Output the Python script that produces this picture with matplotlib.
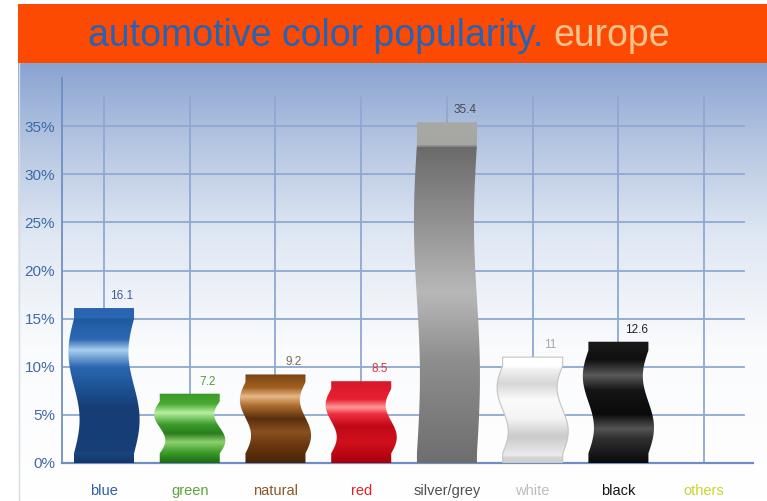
import numpy as np
import matplotlib
matplotlib.use("Agg")
import matplotlib.pyplot as plt
from matplotlib.patches import Polygon, Rectangle
from matplotlib.colors import LinearSegmentedColormap

# categories and their share (percent)
categories = ["blue", "green", "natural", "red", "silver/grey", "white", "black", "others"]
values = [16.1, 7.2, 9.2, 8.5, 35.4, 11.0, 12.6]
value_text = ["16.1", "7.2", "9.2", "8.5", "35.4", "11", "12.6"]
yticks = [0, 5, 10, 15, 20, 25, 30, 35]
ytick_labels = ["0%", "5%", "10%", "15%", "20%", "25%", "30%", "35%"]

label_colors = ["#2f5fa5", "#5aa53a", "#8a5626", "#e0202c", "#505050", "#bdbdbd", "#151515", "#c9d62a"]
value_colors = ["#3d5b8c", "#4d9f33", "#7a6858", "#e0303e", "#4a4a4a", "#a8a8a8", "#222222"]

# vertical colour stops (0 = bottom, 1 = top) for each ribbon bar
bar_stops = [
    [(0, "#143768"), (0.065, "#1a4680"), (0.075, "#173f78"), (0.35, "#163d74"), (0.5, "#1f5598"),
     (0.62, "#2a66b0"), (0.73, "#a8cff0"), (0.8, "#2e6ab4"), (0.93, "#1f5aa0"), (0.94, "#2b67b3"), (1, "#2a64b0")],
    [(0, "#1c6a14"), (0.15, "#3d9d2a"), (0.3, "#8fd070"), (0.42, "#2a7f1e"), (0.55, "#3a9a2a"),
     (0.72, "#b8f0a0"), (0.85, "#4aa832"), (1, "#3a9a28")],
    [(0, "#4a2408"), (0.2, "#6a3810"), (0.35, "#8a5020"), (0.5, "#5a2e0c"), (0.65, "#b07030"),
     (0.75, "#e8b888"), (0.85, "#a06020"), (1, "#7a4414")],
    [(0, "#a8000c"), (0.25, "#d0101c"), (0.45, "#c00818"), (0.6, "#f03040"), (0.68, "#ff9a9a"),
     (0.78, "#e82030"), (1, "#d81828")],
    [(0, "#6e6e6e"), (0.3, "#8e8e8e"), (0.5, "#b8b8b8"), (0.75, "#8a8a8a"), (0.93, "#6a6a6a"),
     (0.935, "#a6a6a2"), (1, "#a8a8a4")],
    [(0, "#cfcfcf"), (0.05, "#d4d4d4"), (0.07, "#ececec"), (0.25, "#cacaca"), (0.42, "#f4f4f4"),
     (0.6, "#fbfbfb"), (0.75, "#d6d6d6"), (0.88, "#f0f0f0"), (0.92, "#ffffff"), (1, "#ffffff")],
    [(0, "#0a0a0a"), (0.2, "#303030"), (0.28, "#555555"), (0.4, "#0a0a0a"), (0.6, "#151515"),
     (0.72, "#5a5a5a"), (0.85, "#101010"), (1, "#1a1a1a")],
]
bar_edges = ["none", "none", "none", "none", "none", "#c4c4c4", "none"]
cap_heights = [1.1, 0.8, 0.8, 0.8, 2.3, 0.9, 0.9]
wave_amp = [0.065, 0.065, 0.065, 0.065, 0.035, 0.065, 0.065]

W, H = 767, 501
fig = plt.figure(figsize=(W / 100, H / 100), dpi=100)
plt.rcParams["font.family"] = ["Liberation Sans", "DejaVu Sans"]

# background gradient below the banner
bg = fig.add_axes([18 / W, 0, 1 - 18 / W, (H - 63) / H], zorder=0)
g = np.linspace(0, 1, 300).reshape(-1, 1)
bg_cmap = LinearSegmentedColormap.from_list(
    "bg", [(0, "#ffffff"), (0.35, "#fafbfd"), (0.6, "#e0e8f3"), (0.8, "#b9c9e3"), (1, "#8aa4d1")])
bg.imshow(g, cmap=bg_cmap, origin="lower", aspect="auto", extent=[0, 1, 0, 1])
bg.axvline(0.002, color="#d6dbe3", lw=1)
bg.set_axis_off()

# orange title banner
banner = fig.add_axes([18 / W, (H - 63) / H, 1 - 18 / W, 59 / H], zorder=1)
banner.add_patch(Rectangle((0, 0), 1, 1, color="#fc4a03"))
banner.set_xlim(0, 1)
banner.set_ylim(0, 1)
banner.set_axis_off()

t1 = fig.text(88 / W, 1 - 36 / H, "automotive color popularity.", color="#2862b2",
              fontsize=27, va="center", ha="left", zorder=5)
fig.canvas.draw()
bb = t1.get_window_extent()
fig.text((bb.x1 + 10) / W, 1 - 36 / H, "europe", color="#fac28c",
         fontsize=27, va="center", ha="left", zorder=5)

# main chart
x0, x1 = 62, 753
y0, y1 = 463, 78
ax = fig.add_axes([x0 / W, (H - y0) / H, (x1 - x0) / W, (y0 - y1) / H], zorder=2)
ax.patch.set_alpha(0)

grid_c = "#8fa8d2"
for yt in yticks[1:]:
    ax.plot([-0.49, 7.46], [yt, yt], color=grid_c, lw=1.3, zorder=1)
for i in range(len(categories)):
    ax.plot([i, i], [0, 38], color=grid_c, lw=1.3, zorder=1)

width = 0.70
for i, v in enumerate(values):
    ys = np.linspace(0, v, 400)
    cb, ct = 1.0, cap_heights[i]
    t = np.clip((ys - cb) / (v - cb - ct), 0, 1)
    off = wave_amp[i] * np.sin(2 * np.pi * t)
    left = i - width / 2 + off
    right = i + width / 2 + off
    verts = np.vstack([np.column_stack([left, ys]), np.column_stack([right[::-1], ys[::-1]])])
    poly = Polygon(verts, closed=True, facecolor="none", edgecolor=bar_edges[i], lw=0.8, zorder=4)
    ax.add_patch(poly)
    cmap = LinearSegmentedColormap.from_list("bar%d" % i, bar_stops[i])
    im = ax.imshow(np.linspace(0, 1, 400).reshape(-1, 1), cmap=cmap, origin="lower", aspect="auto",
                   extent=[i - width / 2 - 0.1, i + width / 2 + 0.1, 0, v], zorder=3, interpolation="bilinear")
    im.set_clip_path(poly)
    ax.text(i + 0.21, v + 1.25, value_text[i], color=value_colors[i], fontsize=8.5,
            ha="center", va="center", zorder=5)

ax.set_xlim(-0.49, 7.57)
ax.set_ylim(0, 40)

for s in ["top", "right"]:
    ax.spines[s].set_visible(False)
ax.spines["left"].set_color("#6f8fc4")
ax.spines["bottom"].set_color("#6f8fc4")
ax.spines["left"].set_linewidth(1.3)
ax.spines["bottom"].set_linewidth(1.6)

ax.set_yticks(yticks)
ax.set_yticklabels(ytick_labels, color="#3f6aa6", fontsize=11)
ax.tick_params(axis="y", length=0, pad=5)
ax.set_xticks(range(len(categories)))
ax.set_xticklabels(categories, fontsize=10.5)
for lab, c in zip(ax.get_xticklabels(), label_colors):
    lab.set_color(c)
ax.tick_params(axis="x", length=0, pad=15)

fig.savefig("out.png", dpi=100)
